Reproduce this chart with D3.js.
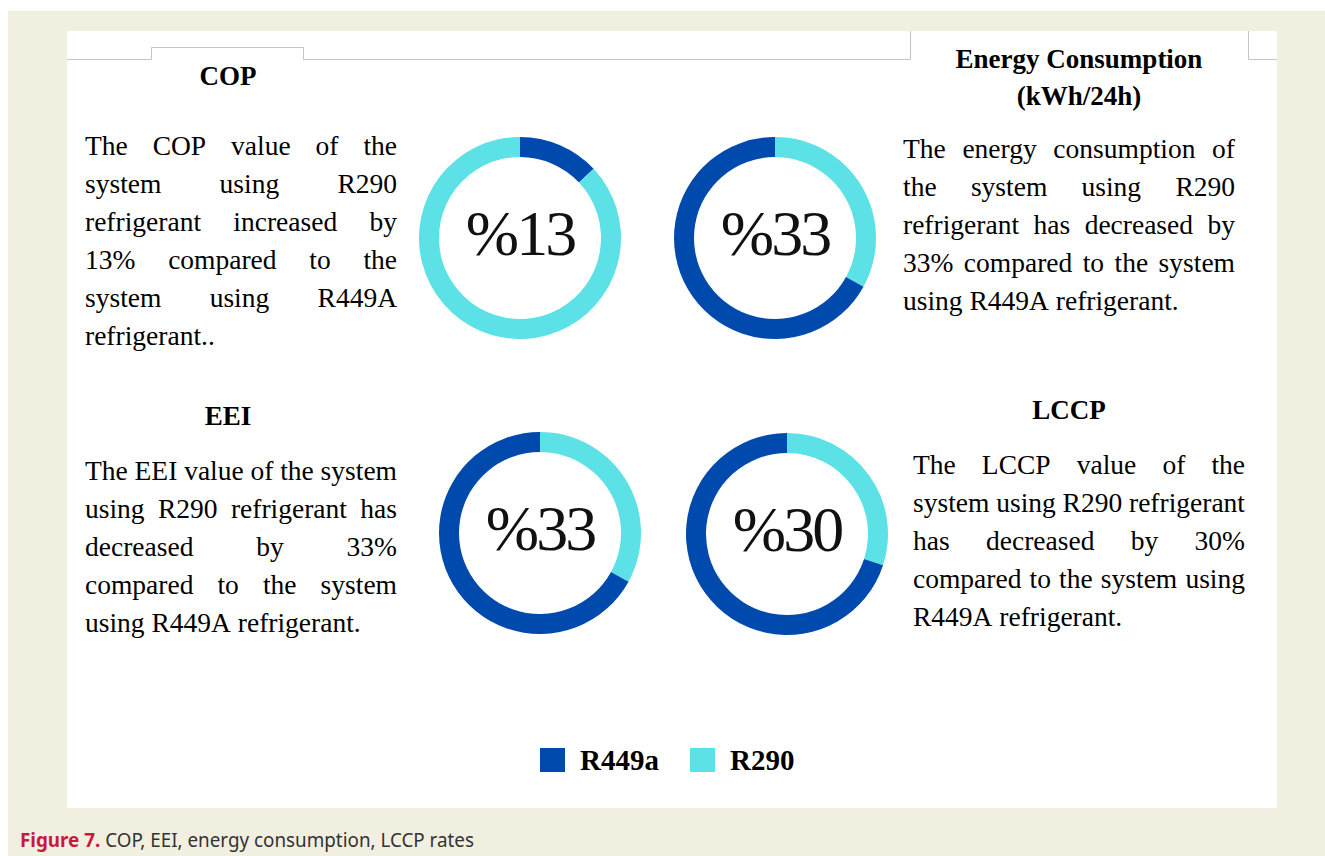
<!DOCTYPE html>
<html>
<head>
<meta charset="utf-8">
<script src="https://cdn.jsdelivr.net/npm/d3@7"></script>
<style>
  html, body { margin: 0; padding: 0; background: #fff; }
  svg { display: block; }
</style>
</head>
<body>
<svg width="1325" height="856"></svg>
<script>
const svg = d3.select("svg");

// data
const metrics = ["COP", "Energy Consumption", "EEI", "LCCP"];
const r449a = [13, 67, 67, 70];
const r290 = [87, 33, 33, 30];
const centerLabels = ["%13", "%33", "%33", "%30"];
// which series starts at 12 o'clock in each ring
const firstSeries = ["R449a", "R290", "R290", "R290"];
const seriesNames = ["R449a", "R290"];
const legendLabels = ["R449a", "R290"];

const texts = [
  ["The COP value of the", "system using R290", "refrigerant increased by", "13% compared to the", "system using R449A", "refrigerant.."],
  ["The energy consumption of", "the system using R290", "refrigerant has decreased by", "33% compared to the system", "using R449A refrigerant."],
  ["The EEI value of the system", "using R290 refrigerant has", "decreased by 33%", "compared to the system", "using R449A refrigerant."],
  ["The LCCP value of the", "system using R290 refrigerant", "has decreased by 30%", "compared to the system using", "R449A refrigerant."]
];

const color = d3.scaleOrdinal().domain(seriesNames).range(["#004aad", "#5ce1e6"]);

// background + panel
svg.append("rect").attr("x", 8).attr("y", 11).attr("width", 1317).attr("height", 845).attr("fill", "#f1efdf");
svg.append("rect").attr("x", 67).attr("y", 31).attr("width", 1210).attr("height", 777).attr("fill", "#fff");

// thin frame lines behind the titles
svg.append("path")
  .attr("d", "M67,59.5H151.5V47.5H303.5V59.5H910.5V31")
  .attr("fill", "none").attr("stroke", "#c4c4c4").attr("stroke-width", 1);
svg.append("path")
  .attr("d", "M1248.5,31V59.5H1277")
  .attr("fill", "none").attr("stroke", "#c4c4c4").attr("stroke-width", 1);

// donuts
const centers = [[520, 238], [775, 238], [540, 533], [787, 534]];
const pie = d3.pie().sort(null).value(d => d.value);
const arc = d3.arc().innerRadius(81).outerRadius(101);

metrics.forEach((m, i) => {
  const vals = { R449a: r449a[i], R290: r290[i] };
  const order = firstSeries[i] === "R449a" ? ["R449a", "R290"] : ["R290", "R449a"];
  const data = order.map(k => ({ key: k, value: vals[k] }));
  const g = svg.append("g").attr("transform", `translate(${centers[i][0]},${centers[i][1]})`);
  g.selectAll("path")
    .data(pie(data))
    .join("path")
    .attr("d", arc)
    .attr("fill", d => color(d.data.key));
  g.append("text")
    .attr("y", 17)
    .attr("text-anchor", "middle")
    .attr("font-family", "'Liberation Serif', serif")
    .attr("font-size", 64)
    .attr("letter-spacing", -3)
    .attr("fill", "#111")
    .text(centerLabels[i]);
});

// titles
const titleFont = "'Liberation Serif', 'Times New Roman', serif";
function title(lines, x, y) {
  lines.forEach((t, j) => {
    svg.append("text")
      .attr("x", x).attr("y", y + j * 37)
      .attr("text-anchor", "middle")
      .attr("font-family", titleFont)
      .attr("font-weight", "bold")
      .attr("font-size", 27)
      .attr("fill", "#000")
      .text(t);
  });
}
title([metrics[0]], 228, 85);
title(["Energy Consumption", "(kWh/24h)"], 1079, 68);
title([metrics[2]], 228, 425);
title([metrics[3]], 1069, 419);

// justified paragraphs, one line at a time
const fs = 27.5;
function paragraph(lines, x0, x1, y0, lh) {
  lines.forEach((line, i) => {
    const words = line.split(" ");
    const t = svg.append("text")
      .attr("y", y0 + i * lh)
      .attr("font-family", titleFont)
      .attr("font-size", fs)
      .attr("fill", "#000");
    const spans = words.map(w => t.append("tspan").text(w));
    const widths = spans.map(s => s.node().getComputedTextLength());
    const total = d3.sum(widths);
    const last = i === lines.length - 1;
    const gap = (last || words.length < 2) ? fs * 0.25 : (x1 - x0 - total) / (words.length - 1);
    let x = x0;
    spans.forEach((s, j) => { s.attr("x", x); x += widths[j] + gap; });
  });
}
paragraph(texts[0], 85, 397, 155, 38);
paragraph(texts[1], 903, 1235, 158, 38);
paragraph(texts[2], 85, 397, 480, 38);
paragraph(texts[3], 913, 1245, 474, 38);

// legend
const legend = svg.append("g");
const legendX = [540, 690];
legendLabels.forEach((l, i) => {
  legend.append("rect")
    .attr("x", legendX[i]).attr("y", 748)
    .attr("width", 25).attr("height", 24)
    .attr("fill", color(l));
  legend.append("text")
    .attr("x", legendX[i] + 40).attr("y", 770)
    .attr("font-family", titleFont)
    .attr("font-weight", "bold")
    .attr("font-size", 29)
    .attr("fill", "#000")
    .text(l);
});

// caption
const cap = svg.append("text")
  .attr("x", 20).attr("y", 847)
  .attr("font-family", "'Noto Sans', sans-serif")
  .attr("font-size", 19);
cap.append("tspan").attr("font-weight", "bold").attr("fill", "#c8193f").text("Figure 7.");
cap.append("tspan").attr("fill", "#333").text(" COP, EEI, energy consumption, LCCP rates");
cap.attr("textLength", 454).attr("lengthAdjust", "spacingAndGlyphs");
</script>
</body>
</html>
